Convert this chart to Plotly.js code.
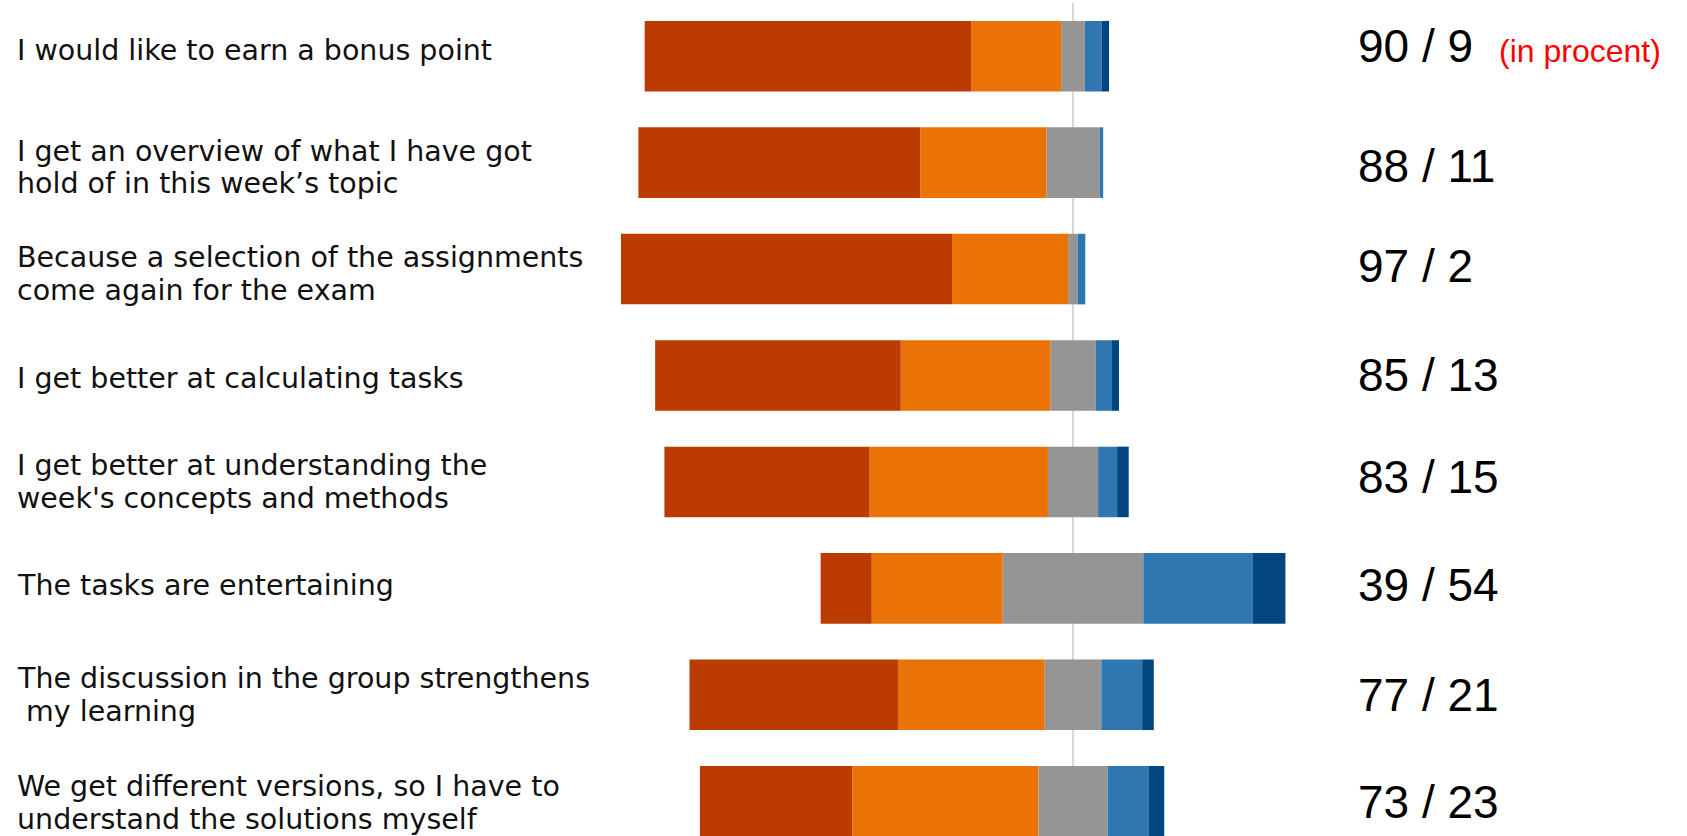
<!DOCTYPE html>
<html>
<head>
<meta charset="utf-8">
<script src="https://cdn.plot.ly/plotly-3.0.1.min.js"></script>
<style>
html,body{margin:0;padding:0;background:#ffffff;overflow:hidden}
#chart{width:1687px;height:836px}
</style>
</head>
<body>
<div id="chart"></div>
<script>
// ---- Data (percent of respondents) ----
const categories = [
  "I would like to earn a bonus point",
  "I get an overview of what I have got<br>hold of in this week\u2019s topic",
  "Because a selection of the assignments<br>come again for the exam",
  "I get better at calculating tasks",
  "I get better at understanding the<br>week's concepts and methods",
  "The tasks are entertaining",
  "The discussion in the group strengthens<br>\u00a0my learning",
  "We get different versions, so I have to<br>understand the solutions myself"
];
const stronglyAgree    = [70.3, 60.7, 71.3, 52.9, 44.2, 11.0, 44.9, 32.8];
const agree            = [19.4, 27.2, 25.0, 32.2, 38.4, 28.2, 31.6, 40.1];
const neutral          = [ 5.1, 11.4,  2.1,  9.8, 10.8, 30.3, 12.2, 14.9];
const disagree         = [ 3.6,  0.8,  1.6,  3.5,  4.1, 23.6,  8.8,  8.9];
const stronglyDisagree = [ 1.6,  0.0,  0.0,  1.5,  2.5,  7.0,  2.5,  3.3];
const summaryLabels = ["90 / 9", "88 / 11", "97 / 2", "85 / 13", "83 / 15", "39 / 54", "77 / 21", "73 / 23"];
const unitNote = "(in procent)";

// ---- Styles ----
const colors = {
  stronglyAgree: "#BB3B00",
  agree: "#EA7207",
  neutral: "#959595",
  disagree: "#2E77B0",
  stronglyDisagree: "#03457F"
};
const W = 1687, H = 836;
const labelShift = [6, -5, -5, -3, 0, 3, 0, -2];   // pixel nudges of the left labels
const numberShift = [10, -3, 3, 0, 5, 3, 0, -1];   // pixel nudges of the right numbers

// Diverging layout: agreement to the left of zero, disagreement to the right,
// neutral split evenly across the zero line.
function barTrace(name, xs, color) {
  return {
    type: "bar",
    orientation: "h",
    name: name,
    y: categories,
    x: xs,
    marker: { color: color, line: { width: 0 } },
    hoverinfo: "skip",
    showlegend: false
  };
}
const traces = [
  barTrace("Neutral (left half)", neutral.map(v => -v / 2), colors.neutral),
  barTrace("Agree", agree.map(v => -v), colors.agree),
  barTrace("Strongly agree", stronglyAgree.map(v => -v), colors.stronglyAgree),
  barTrace("Neutral (right half)", neutral.map(v => v / 2), colors.neutral),
  barTrace("Disagree", disagree, colors.disagree),
  barTrace("Strongly disagree", stronglyDisagree, colors.stronglyDisagree)
];

// ---- Annotations ----
const annotations = [];
const lineGap = 32.5;
categories.forEach((cat, i) => {
  const lines = cat.split("<br>");
  const n = lines.length;
  lines.forEach((ln, j) => {
    annotations.push({
      xref: "paper", yref: "y",
      x: 15 / W, y: cat,
      xanchor: "left", yanchor: "middle",
      text: ln, showarrow: false, align: "left",
      yshift: ((n - 1) / 2 - j) * lineGap + labelShift[i],
      font: { family: "DejaVu Sans", size: 28.5, color: "#111111" }
    });
  });
  annotations.push({
    xref: "paper", yref: "y",
    x: 1356 / W, y: cat,
    xanchor: "left", yanchor: "middle",
    text: summaryLabels[i], showarrow: false,
    yshift: numberShift[i],
    font: { family: "Liberation Sans, Arial, sans-serif", size: 46, color: "#000000" }
  });
});
annotations.push({
  xref: "paper", yref: "y",
  x: 1497 / W, y: categories[0],
  xanchor: "left", yanchor: "middle",
  text: unitNote, showarrow: false,
  yshift: 5,
  font: { family: "Liberation Sans, Arial, sans-serif", size: 32, color: "#FF0000" }
});

const layout = {
  width: W, height: H,
  margin: { l: 0, r: 0, t: 3, b: 0, pad: 0 },
  paper_bgcolor: "#ffffff",
  plot_bgcolor: "#ffffff",
  barmode: "relative",
  bargap: 0.337,
  showlegend: false,
  xaxis: {
    range: [-231.1, 132.24],
    showticklabels: false, showgrid: false, ticks: "",
    zeroline: true, zerolinecolor: "#D9D9D9", zerolinewidth: 2,
    showline: false, fixedrange: true
  },
  yaxis: {
    type: "category",
    categoryorder: "array", categoryarray: categories,
    range: [7.327, -0.5], autorange: false,
    showticklabels: false, showgrid: false, zeroline: false,
    ticks: "", showline: false, fixedrange: true
  },
  annotations: annotations
};

Plotly.newPlot("chart", traces, layout, { staticPlot: true, displayModeBar: false });
</script>
</body>
</html>
